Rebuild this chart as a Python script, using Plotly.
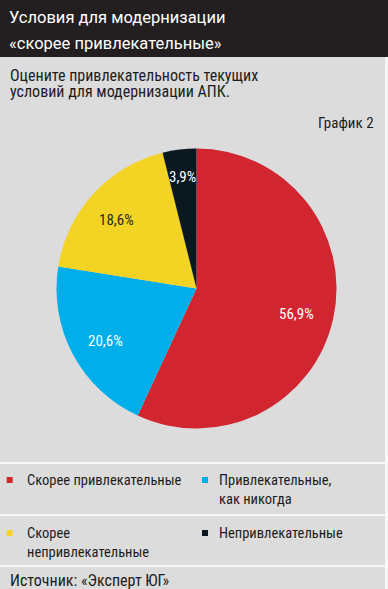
import math
import plotly.graph_objects as go

W, H = 388, 589

# ---- data ----
categories = ["Скорее привлекательные", "Привлекательные, как никогда",
              "Скорее непривлекательные", "Непривлекательные"]
values = [56.9, 20.6, 18.6, 3.9]
value_labels = ["56,9%", "20,6%", "18,6%", "3,9%"]
legend_lines = [["Скорее привлекательные"], ["Привлекательные,", "как никогда"],
                ["Скорее", "непривлекательные"], ["Непривлекательные"]]
title_lines = ["Условия для модернизации", "«скорее привлекательные»"]
subtitle_lines = ["Оцените привлекательность текущих", "условий для модернизации АПК."]
chart_no = "График 2"
source = "Источник: «Эксперт ЮГ»"

# ---- style ----
colors = ["#d1252f", "#00aee9", "#f3d323", "#0b1820"]
text_colors = ["#ffffff", "#ffffff", "#2a2a2a", "#ffffff"]
label_radius = [0.73, 0.74, 0.77, 0.83]
COND = "Roboto Condensed"
TITLE_FONT = "Roboto"
INK = "#1c1c1c"

def px(x): return x / W
def py(y): return 1 - y / H

CX, CY, R = 196.5, 288.5, 140

fig = go.Figure(go.Pie(
    labels=categories, values=values, textinfo="none",
    marker=dict(colors=colors, line=dict(width=0)),
    sort=False, direction="clockwise", rotation=0,
    domain=dict(x=[px(CX - R), px(CX + R)], y=[py(CY + R), py(CY - R)]),
    showlegend=False, hoverinfo="label+percent",
))

shapes = [
    dict(type="rect", xref="paper", yref="paper", x0=0, x1=1, y0=py(57), y1=1,
         fillcolor="#231f20", line=dict(width=0), layer="below"),
    dict(type="rect", xref="paper", yref="paper", x0=px(385), x1=1, y0=0, y1=py(57),
         fillcolor="#f6f6f6", line=dict(width=0), layer="below"),
]
for yl in [463, 515, 566]:
    shapes.append(dict(type="line", xref="paper", yref="paper", x0=0, x1=1,
                       y0=py(yl), y1=py(yl), line=dict(color="#f6f6f6", width=2)))

annotations = []

def txt(s, x, y, size, color=INK, family=COND, xanchor="left"):
    annotations.append(dict(text=s, x=px(x), y=py(y), xanchor=xanchor, yanchor="middle",
                            showarrow=False, align="left",
                            font=dict(color=color, size=size, family=family)))

for i, line in enumerate(title_lines):
    txt(line, 7, 18 + i * 25, 16.5, color="#ffffff", family=TITLE_FONT)
for i, line in enumerate(subtitle_lines):
    txt(line, 8, 75.5 + i * 15.5, 16)
txt(chart_no, 376, 122.5, 15, xanchor="right")
txt(source, 8, 580.5, 16)

# pie value labels, placed at the mid-angle of each slice
total = sum(values)
cum = 0
for v, lab, tc, f in zip(values, value_labels, text_colors, label_radius):
    theta = 2 * math.pi * (cum + v / 2) / total
    cum += v
    x = CX + f * R * math.sin(theta)
    y = CY - f * R * math.cos(theta) + 4
    txt(lab, x, y, 15, color=tc, xanchor="center")

# legend
legend_pos = [(9.7, 480), (205, 480), (9.7, 533), (205, 533)]
text_x = [25, 217, 25, 217]
for i, (lx, ly) in enumerate(legend_pos):
    shapes.append(dict(type="rect", xref="paper", yref="paper",
                       x0=px(lx - 3), x1=px(lx + 3), y0=py(ly + 3), y1=py(ly - 3),
                       fillcolor=colors[i], line=dict(width=0)))
    for j, line in enumerate(legend_lines[i]):
        txt(line, text_x[i], ly + j * 19.5, 14.5)

fig.update_layout(
    width=W, height=H, margin=dict(l=0, r=0, t=0, b=0),
    paper_bgcolor="#dcdcdc", plot_bgcolor="#dcdcdc",
    shapes=shapes, annotations=annotations,
)
fig.write_html("out.html", config=dict(displayModeBar=False),
               post_script="document.body.style.margin='0';document.body.style.overflow='hidden';")
